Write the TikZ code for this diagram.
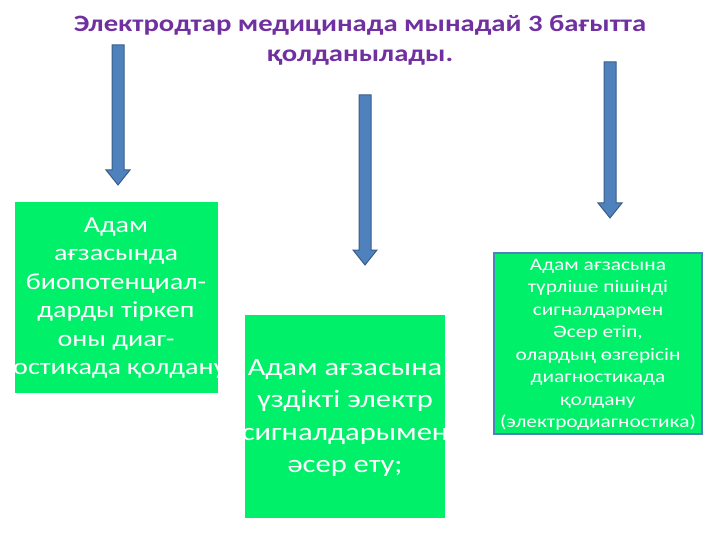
\documentclass[tikz,border=0pt]{standalone}
\usepackage{fontspec}
\setmainfont{Carlito}[FakeStretch=1.22]
\definecolor{ttl}{HTML}{7030A0}
\definecolor{grn}{HTML}{00F06A}
\definecolor{arf}{HTML}{4F81BD}
\definecolor{arb}{HTML}{385D8A}
\definecolor{bb}{HTML}{4F81BD}
\newcommand{\myarrowdn}[3]{%
 \draw[arr] (#1-6,#2) -- (#1+6,#2) -- (#1+6,#3-15) -- (#1+12,#3-15) -- (#1,#3) -- (#1-12,#3-15) -- (#1-6,#3-15) -- cycle;}
\begin{document}
\begin{tikzpicture}[x=1pt,y=-1pt,
  box/.style={fill=grn,draw=none},
  txt/.style={text=white,align=center},
  arr/.style={fill=arf,draw=arb,line width=1pt}]
\useasboundingbox (0,0) rectangle (720,540);
\node[text=ttl,align=center,font=\fontsize{23.5}{30}\selectfont\bfseries] (title) at (360,40) {Электродтар медицинада мынадай 3 бағытта\\қолданылады.};
\myarrowdn{118}{45}{185}
\myarrowdn{365}{95}{265}
\myarrowdn{610}{62}{218}
\fill[box] (15,202) rectangle (218,393);
\node[txt,font=\fontsize{23}{28.5}\selectfont] (b1) at (116,298) {Адам\\ағзасында\\биопотенциал-\\дарды тіркеп\\оны диаг-\\ностикада қолдану;};
\fill[box] (245,315) rectangle (445,518);
\node[txt,font=\fontsize{25}{32.5}\selectfont] (b2) at (345,418) {Адам ағзасына\\үздікті электр\\сигналдарымен\\әсер ету;};
\draw[fill=grn,draw=bb,line width=2pt] (494,253) rectangle (702,434);
\node[txt,font=\fontsize{17.5}{22.5}\selectfont] (b3) at (598,345) {Адам ағзасына\\түрліше пішінді\\сигналдармен\\Әсер етіп,\\олардың өзгерісін\\диагностикада\\қолдану\\(электродиагностика)};
\end{tikzpicture}
\end{document}
